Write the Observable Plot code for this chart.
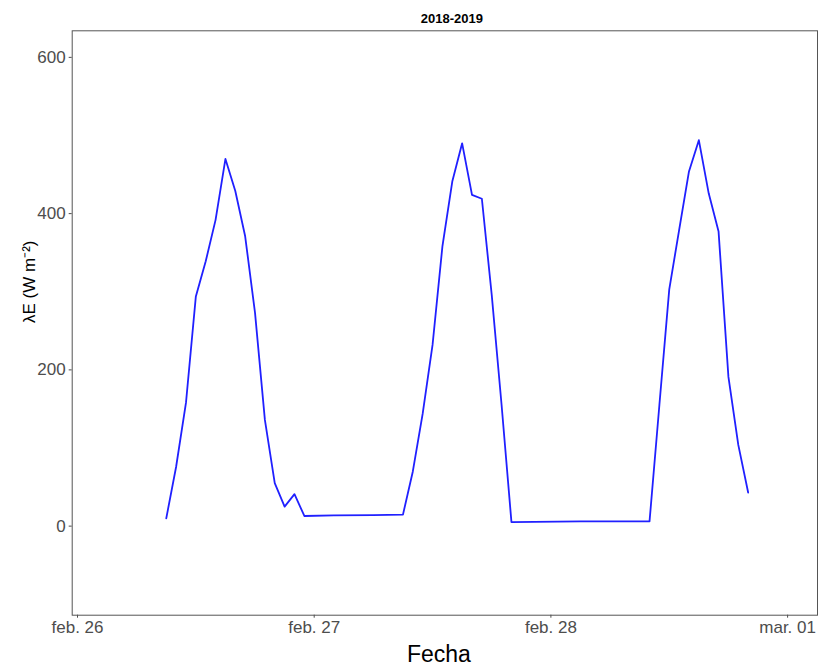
<!DOCTYPE html>
<html>
<head>
<meta charset="utf-8">
<script src="https://cdn.jsdelivr.net/npm/d3@7"></script>
<script src="https://cdn.jsdelivr.net/npm/@observablehq/plot@0.6"></script>
<style>
  html, body { margin: 0; padding: 0; background: #fff; }
  #chart svg { display: block; }
</style>
</head>
<body>
<div id="chart"></div>
<script>
// Hourly latent heat flux readings (UTC), 26–28 Feb 2019
const times = [
  "2019-02-26T09:00", "2019-02-26T10:00", "2019-02-26T11:00", "2019-02-26T12:00",
  "2019-02-26T13:00", "2019-02-26T14:00", "2019-02-26T15:00", "2019-02-26T16:00",
  "2019-02-26T17:00", "2019-02-26T18:00", "2019-02-26T19:00", "2019-02-26T20:00",
  "2019-02-26T21:00", "2019-02-26T22:00", "2019-02-26T23:00",
  "2019-02-27T02:00", "2019-02-27T06:00",
  "2019-02-27T09:00", "2019-02-27T10:00", "2019-02-27T11:00", "2019-02-27T12:00",
  "2019-02-27T13:00", "2019-02-27T14:00", "2019-02-27T15:00", "2019-02-27T16:00",
  "2019-02-27T17:00", "2019-02-27T18:00", "2019-02-27T19:00", "2019-02-27T20:00",
  "2019-02-28T03:00",
  "2019-02-28T10:00", "2019-02-28T11:00", "2019-02-28T12:00", "2019-02-28T13:00",
  "2019-02-28T14:00", "2019-02-28T15:00", "2019-02-28T16:00", "2019-02-28T17:00",
  "2019-02-28T18:00", "2019-02-28T19:00", "2019-02-28T20:00"
];
const lambdaE = [
  10, 76, 158, 294,
  339, 392, 470, 429,
  371, 273, 136, 55,
  25, 41, 13,
  13.7, 14.1,
  14.7, 70, 144, 232,
  358, 441, 490, 424,
  419, 296, 155, 5.1,
  6.0,
  6.0, 155, 303, 379,
  454, 494, 426, 377,
  191, 104, 43
];

// Axis ticks
const xTickTimes = ["2019-02-26T00:00", "2019-02-27T00:00", "2019-02-28T00:00", "2019-03-01T00:00"];
const xTickLabels = ["feb. 26", "feb. 27", "feb. 28", "mar. 01"];
const yTicks = [0, 200, 400, 600];

const title = "2018-2019";
const xTitle = "Fecha";
const yTitle = "λE (W m⁻²)";

const parse = s => new Date(s + ":00Z");
const data = times.map((t, i) => ({time: parse(t), value: lambdaE[i]}));
const tickDates = xTickTimes.map(parse);
const tickLabelOf = new Map(tickDates.map((d, i) => [+d, xTickLabels[i]]));

const DAY = 864e5;
const xDomain = [new Date(+tickDates[0] - 0.0224 * DAY), new Date(+tickDates[0] + 3.1263 * DAY)];

const chart = Plot.plot({
  width: 818,
  height: 667,
  marginTop: 30.3,
  marginBottom: 52.3,
  marginLeft: 71.7,
  marginRight: 1,
  style: {
    fontFamily: "'Liberation Sans', Arial, sans-serif",
    fontSize: "17px",
    color: "#4d4d4d",
    background: "#fff"
  },
  x: {
    type: "utc",
    domain: xDomain,
    ticks: tickDates,
    tickFormat: d => tickLabelOf.get(+d),
    tickSize: 3,
    tickPadding: 3,
    label: null
  },
  y: {
    domain: [-114, 634],
    ticks: yTicks,
    tickFormat: d => String(d),
    tickSize: 3,
    tickPadding: 3.5,
    label: null
  },
  marks: [
    Plot.line(data, {x: "time", y: "value", stroke: "#2020ff", strokeWidth: 1.8, strokeLinejoin: "round"}),
    Plot.frame({stroke: "#555", strokeWidth: 1}),
    Plot.text([title], {
      frameAnchor: "top", dx: 7, dy: -8.3, lineAnchor: "bottom",
      fontSize: 13, fontWeight: "bold", fill: "#000"
    }),
    Plot.text([xTitle], {
      frameAnchor: "bottom", dx: -6, dy: 47, lineAnchor: "bottom",
      fontSize: 23, fill: "#000"
    }),
    Plot.text([yTitle], {
      frameAnchor: "left", dx: -42.7, rotate: -90,
      fontSize: 17, fill: "#000"
    })
  ]
});

document.getElementById("chart").appendChild(chart);
</script>
</body>
</html>
